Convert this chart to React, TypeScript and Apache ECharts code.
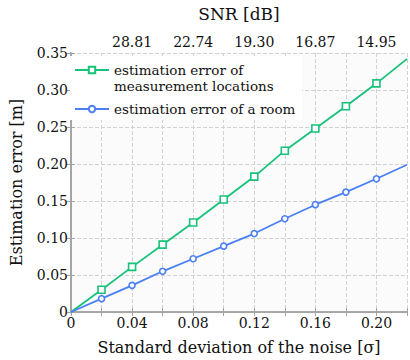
import React, { useEffect, useRef } from "react";
import * as echarts from "echarts";

const sigma = [0, 0.02, 0.04, 0.06, 0.08, 0.1, 0.12, 0.14, 0.16, 0.18, 0.2, 0.22];
const locationError = [0, 0.030, 0.061, 0.091, 0.121, 0.152, 0.183, 0.218, 0.248, 0.278, 0.309, 0.342];
const roomError = [0, 0.018, 0.036, 0.055, 0.072, 0.089, 0.106, 0.126, 0.145, 0.162, 0.180, 0.199];
const snrTickPositions = [0.04, 0.08, 0.12, 0.16, 0.2];
const snrLabels = ["28.81", "22.74", "19.30", "16.87", "14.95"];

const NAME_LOC = "estimation error of measurement locations";
const NAME_ROOM = "estimation error of a room";
const FONT = "DejaVu Serif";
const GREEN = "#17c27b";
const BLUE = "#4a7ff5";
const AXIS = "#a3a3a3";
const GRIDLINE = "#d2d2d2";

function buildData(vals: number[]) {
  return sigma.map((x, i) => {
    const endpoint = i === 0 || i === sigma.length - 1;
    return endpoint ? { value: [x, vals[i]], symbol: "none" } : { value: [x, vals[i]] };
  });
}

export default function App() {
  const ref = useRef<HTMLDivElement>(null);
  useEffect(() => {
    document.body.style.margin = "0";
    if (!ref.current) return;
    const chart = echarts.init(ref.current, null, { renderer: "svg" });
    const axisCommon = {
      type: "value",
      min: 0,
      max: 0.22,
      interval: 0.02,
      axisLine: { show: true, lineStyle: { color: AXIS, width: 1.6 } },
      axisTick: { show: true, inside: true, length: 4, lineStyle: { color: AXIS } },
    };
    chart.setOption({
      animation: false,
      backgroundColor: "#ffffff",
      textStyle: { fontFamily: FONT },
      grid: {
        left: 68,
        right: 1,
        top: 52,
        bottom: 47,
        show: true,
        backgroundColor: "#fbfbfb",
        borderWidth: 0,
      },
      graphic: [
        {
          type: "rect",
          z: 1,
          shape: { x: 70, y: 56, width: 232, height: 64 },
          style: { fill: "#ffffff" },
        },
      ],
      legend: {
        orient: "vertical",
        left: 74,
        top: 46,
        padding: 0,
        itemGap: 7,
        itemWidth: 34,
        itemHeight: 8,
        z: 4,
        data: [NAME_LOC, NAME_ROOM],
        formatter: (name: string) =>
          name === NAME_LOC ? "\nestimation error of\nmeasurement locations" : name,
        textStyle: { fontFamily: FONT, fontSize: 13.5, color: "#111", lineHeight: 16 },
      },
      xAxis: [
        {
          ...axisCommon,
          position: "bottom",
          name: "Standard deviation of the noise [σ]",
          nameLocation: "middle",
          nameGap: 27,
          nameTextStyle: { fontFamily: FONT, fontSize: 16, color: "#111" },
          axisLabel: {
            fontFamily: FONT,
            fontSize: 14,
            color: "#111",
            margin: 4,
            formatter: (v: number) => {
              const k = Math.round(v * 100);
              if (k === 0) return "0";
              if (k % 4 !== 0 || k > 20) return "";
              return (k / 100).toFixed(2);
            },
          },
          splitLine: { show: true, lineStyle: { color: GRIDLINE, type: "dashed", width: 1 } },
        },
        {
          ...axisCommon,
          position: "top",
          name: "SNR [dB]",
          nameLocation: "middle",
          nameGap: 31,
          nameTextStyle: { fontFamily: FONT, fontSize: 17, color: "#111" },
          axisLabel: {
            fontFamily: FONT,
            fontSize: 14,
            color: "#111",
            margin: 4,
            formatter: (v: number) => {
              const k = Math.round(v * 100);
              const idx = snrTickPositions.findIndex((p) => Math.round(p * 100) === k);
              return idx >= 0 ? snrLabels[idx] : "";
            },
          },
          splitLine: { show: false },
        },
      ],
      yAxis: [
        {
          type: "value",
          min: 0,
          max: 0.35,
          interval: 0.05,
          position: "left",
          name: "Estimation error [m]",
          nameLocation: "middle",
          nameGap: 47,
          nameTextStyle: { fontFamily: FONT, fontSize: 16, color: "#111" },
          axisLine: { show: true, lineStyle: { color: AXIS, width: 1.6 } },
          axisTick: { show: true, inside: true, length: 4, lineStyle: { color: AXIS } },
          axisLabel: {
            fontFamily: FONT,
            fontSize: 14,
            color: "#111",
            margin: 3,
            formatter: (v: number) => (Math.round(v * 100) === 0 ? "0" : v.toFixed(2)),
          },
          splitLine: { show: true, lineStyle: { color: GRIDLINE, type: "dashed", width: 1 } },
        },
        {
          type: "value",
          min: 0,
          max: 0.35,
          interval: 0.05,
          position: "right",
          axisLine: { show: true, lineStyle: { color: AXIS, width: 1.6 } },
          axisTick: { show: true, inside: true, length: 4, lineStyle: { color: AXIS } },
          axisLabel: { show: false },
          splitLine: { show: false },
        },
      ],
      series: [
        {
          name: NAME_LOC,
          type: "line",
          xAxisIndex: 0,
          yAxisIndex: 0,
          data: buildData(locationError),
          symbol: "rect",
          symbolSize: 7,
          color: GREEN,
          lineStyle: { color: GREEN, width: 1.8 },
          itemStyle: { color: "#ffffff", borderColor: GREEN, borderWidth: 1.6 },
          z: 3,
        },
        {
          name: NAME_ROOM,
          type: "line",
          xAxisIndex: 0,
          yAxisIndex: 0,
          data: buildData(roomError),
          symbol: "circle",
          symbolSize: 6,
          color: BLUE,
          lineStyle: { color: BLUE, width: 1.8 },
          itemStyle: { color: "#ffffff", borderColor: BLUE, borderWidth: 1.6 },
          z: 3,
        },
      ],
    });
    return () => chart.dispose();
  }, []);
  return <div ref={ref} style={{ width: 410, height: 360 }} />;
}
